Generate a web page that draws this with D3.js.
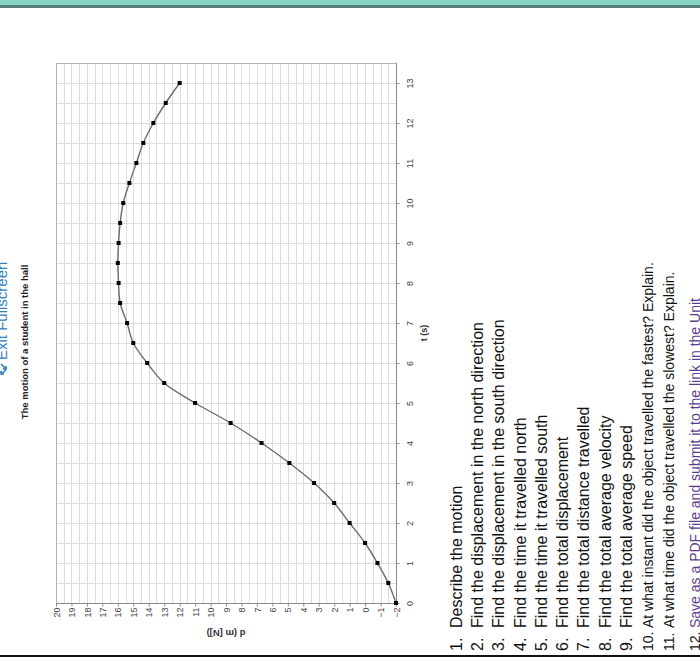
<!DOCTYPE html>
<html>
<head>
<meta charset="utf-8">
<script src="https://cdn.jsdelivr.net/npm/d3@7"></script>
<style>
  body { margin: 0; background: #fff; }
  svg { display: block; font-family: Arial, "Liberation Sans", sans-serif; }
</style>
</head>
<body>
<div id="chart"></div>
<script>
// time (s) and displacement d (m [N])
const times = [0, 0.5, 1, 1.5, 2, 2.5, 3, 3.5, 4, 4.5, 5, 5.5, 6, 6.5,
  7, 7.5, 8, 8.5, 9, 9.5, 10, 10.5, 11, 11.5, 12, 12.5, 13]
const displacement = [-2, -1.5, -0.8, 0, 1, 2, 3.3, 4.9, 6.7, 8.7, 11, 13, 14.1, 15,
  15.4, 15.85, 15.95, 16, 15.95, 15.85, 15.65, 15.25, 14.8, 14.35, 13.7, 12.9, 12]
const tTicks = d3.range(0, 14, 1)
const dTicks = d3.range(-2, 21, 1)

const title = 'The motion of a student in the hall'
const questions = [
  'Describe the motion',
  'Find the displacement in the north direction',
  'Find the displacement in the south direction',
  'Find the time it travelled north',
  'Find the time it travelled south',
  'Find the total displacement',
  'Find the total distance travelled',
  'Find the total average velocity',
  'Find the total average speed',
  'At what instant did the object travelled the fastest? Explain.',
  'At what time did the object travelled the slowest? Explain.',
  'Save as a PDF file and submit it to the link in the Unit'
]

const width = 700, height = 662
const svg = d3.select('#chart').append('svg')
  .attr('width', width).attr('height', height)

// page header strip
svg.append('rect').attr('x', 0).attr('y', 0).attr('width', width).attr('height', 5).attr('fill', '#88d5c5')
svg.append('rect').attr('x', 0).attr('y', 5).attr('width', width).attr('height', 3).attr('fill', '#557f77')

// the page is turned a quarter turn: t runs upward, d runs leftward
const d = d3.scaleLinear().domain([-2, 20]).range([396, 56])
const t = d3.scaleLinear().domain([0, 13.5]).range([603, 63])

const grid = svg.append('g').attr('stroke', '#dcdcdc').attr('stroke-width', 1)
grid.selectAll('.gd').data(d3.range(-2, 20.01, 0.5)).join('line')
  .attr('x1', v => Math.round(d(v)) + 0.5).attr('x2', v => Math.round(d(v)) + 0.5)
  .attr('y1', t(0)).attr('y2', t(13.5))
grid.selectAll('.gt').data(d3.range(0, 13.51, 0.5)).join('line')
  .attr('y1', v => Math.round(t(v)) + 0.5).attr('y2', v => Math.round(t(v)) + 0.5)
  .attr('x1', d(20)).attr('x2', d(-2))

// frame
svg.append('rect')
  .attr('x', d(20) + 0.5).attr('y', t(13.5) + 0.5)
  .attr('width', d(-2) - d(20)).attr('height', t(0) - t(13.5))
  .attr('fill', 'none').attr('stroke', '#b4b4b4')
svg.append('line').attr('x1', d(20)).attr('x2', d(-2) + 1)
  .attr('y1', t(0) + 0.5).attr('y2', t(0) + 0.5).attr('stroke', '#8a8a8a')
svg.append('line').attr('x1', d(-2) + 0.5).attr('x2', d(-2) + 0.5)
  .attr('y1', t(13.5)).attr('y2', t(0)).attr('stroke', '#8a8a8a')

// axes, labels turned with the page
const tAxis = svg.append('g').attr('transform', `translate(${d(-2) + 0.5},0)`)
  .call(d3.axisRight(t).tickValues(tTicks).tickSize(3).tickFormat(d3.format('d')))
tAxis.select('.domain').remove()
tAxis.selectAll('line').attr('stroke', '#8a8a8a')
tAxis.selectAll('text')
  .attr('x', null)
  .attr('transform', 'translate(13,0) rotate(-90)')
  .attr('text-anchor', 'middle').attr('dy', '0.35em')
  .attr('fill', '#444').attr('font-size', 9)

const dAxis = svg.append('g').attr('transform', `translate(0,${t(0) + 0.5})`)
  .call(d3.axisBottom(d).tickValues(dTicks).tickSize(3).tickFormat(d3.format('d')))
dAxis.select('.domain').remove()
dAxis.selectAll('line').attr('stroke', '#8a8a8a')
dAxis.selectAll('text')
  .attr('y', null).attr('dy', '0.35em')
  .attr('transform', 'translate(0,4) rotate(-90)')
  .attr('text-anchor', 'end')
  .attr('fill', '#444').attr('font-size', 9)

svg.append('text').text('t (s)')
  .attr('transform', `translate(424,${t(6.75)}) rotate(-90)`)
  .attr('text-anchor', 'middle').attr('dy', '0.35em')
  .attr('font-size', 9).attr('font-weight', 'bold').attr('fill', '#333')
svg.append('text').text('d (m [N])')
  .attr('transform', `translate(${d(9)},633) rotate(180)`)
  .attr('text-anchor', 'middle').attr('dy', '0.35em')
  .attr('font-size', 9.5).attr('font-weight', 'bold').attr('fill', '#333')
svg.append('text').text(title)
  .attr('transform', 'translate(25,342) rotate(-90)')
  .attr('text-anchor', 'middle').attr('dy', '0.35em')
  .attr('font-size', 9.5).attr('font-weight', 'bold').attr('fill', '#222')

// the motion curve
const pts = times.map((v, i) => [v, displacement[i]])
svg.append('path').datum(pts)
  .attr('fill', 'none').attr('stroke', '#6b6b6b').attr('stroke-width', 1.4)
  .attr('d', d3.line().x(p => d(p[1])).y(p => t(p[0])).curve(d3.curveCatmullRom.alpha(0.5)))
svg.append('g').selectAll('rect').data(pts).join('rect')
  .attr('x', p => d(p[1]) - 2).attr('y', p => t(p[0]) - 2)
  .attr('width', 4).attr('height', 4).attr('fill', '#000')

// exit fullscreen control on the left edge
const exit = svg.append('g').attr('fill', '#2f7fc1').attr('stroke', '#2f7fc1')
exit.append('text').text('Exit Fullscreen')
  .attr('transform', 'translate(7,360) rotate(-90)')
  .attr('font-size', 15).attr('stroke', 'none')
exit.append('path').attr('fill', 'none').attr('stroke-width', 1.6)
  .attr('d', 'M1,364 L6,369 M6,366 L6,369 L3,369 M1,374 L6,370 M1,371 L1,374 L4,374')

// question list, also turned
const qList = svg.append('g').attr('fill', '#111')
questions.forEach((q, i) => {
  const cx = i < 11 ? 456 + i * 21.3 : 695
  const size = i < 9 ? 16 : 14
  qList.append('text').text(`${i + 1}.`)
    .attr('transform', `translate(${cx},651) rotate(-90)`).attr('dy', '0.35em')
    .attr('font-size', size)
  qList.append('text').text(q)
    .attr('transform', `translate(${cx},628) rotate(-90)`).attr('dy', '0.35em')
    .attr('font-size', size)
    .attr('fill', i === 11 ? '#5a3d8c' : '#111')
})

svg.append('rect').attr('x', 0).attr('y', 655).attr('width', width).attr('height', 2).attr('fill', '#111')
</script>
</body>
</html>
